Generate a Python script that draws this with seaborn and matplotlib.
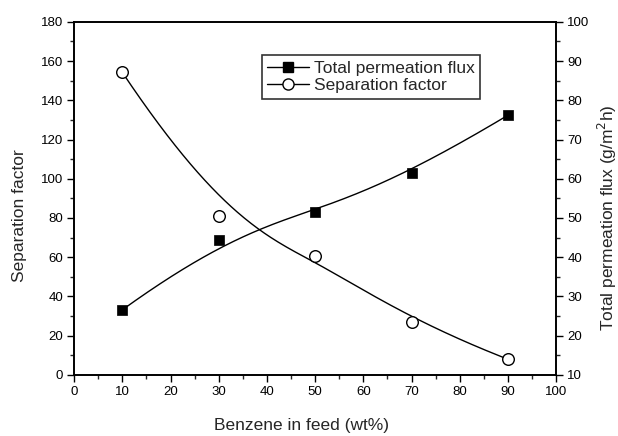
import matplotlib
matplotlib.use("Agg")
import matplotlib.pyplot as plt
import seaborn as sns
import numpy as np
import pandas as pd
from matplotlib.ticker import MultipleLocator
from matplotlib.lines import Line2D

benzene = [10, 30, 50, 70, 90]
separation_factor = [154.2, 80.8, 60.4, 27.2, 8.0]
total_flux = [26.6, 44.3, 51.6, 61.5, 76.2]

df = pd.DataFrame({"benzene": benzene, "sep": separation_factor, "flux": total_flux})


def bspline_curve(xs, ys, n=300):
    """Clamped cubic B-spline using the data points as control points (Origin 'B-spline' connection)."""
    P = np.column_stack([xs, ys]).astype(float)
    k = 3
    m = len(P)
    inner = np.arange(1, m - k)
    knots = np.concatenate([np.zeros(k + 1), inner, np.full(k + 1, m - k)]).astype(float)
    ts = np.linspace(0, m - k, n)
    out = []
    for t in ts:
        N = np.zeros(len(knots) - 1)
        for i in range(len(knots) - 1):
            if knots[i] <= t < knots[i + 1]:
                N[i] = 1.0
        if t >= knots[-1]:
            N[m - 1] = 1.0
        for d in range(1, k + 1):
            Nn = np.zeros(len(knots) - 1 - d)
            for i in range(len(Nn)):
                a = 0.0
                den1 = knots[i + d] - knots[i]
                if den1 > 0:
                    a += (t - knots[i]) / den1 * N[i]
                den2 = knots[i + d + 1] - knots[i + 1]
                if den2 > 0:
                    a += (knots[i + d + 1] - t) / den2 * N[i + 1]
                Nn[i] = a
            N = Nn
        out.append(N[:m] @ P)
    out = np.array(out)
    return out[:, 0], out[:, 1]


sns.set_theme(style="ticks")
plt.rcParams['font.family'] = ['Liberation Sans', 'DejaVu Sans']

fig = plt.figure(figsize=(6.18, 4.36), dpi=100)
ax = fig.add_axes([0.120, 0.140, 0.780, 0.810])
ax2 = ax.twinx()

cx, cy = bspline_curve(df["benzene"], df["sep"])
sns.lineplot(x=cx, y=cy, ax=ax, color="black", lw=1.0, sort=False, estimator=None)
fx, fy = bspline_curve(df["benzene"], df["flux"])
sns.lineplot(x=fx, y=fy, ax=ax2, color="black", lw=1.0, sort=False, estimator=None)

sns.scatterplot(data=df, x="benzene", y="sep", ax=ax, marker="o", s=70,
                facecolor="white", edgecolor="black", linewidth=1.0, zorder=5)
sns.scatterplot(data=df, x="benzene", y="flux", ax=ax2, marker="s", s=60,
                color="black", edgecolor="black", linewidth=0.5, zorder=5)

ax.set_xlim(0, 100)
ax.set_ylim(0, 180)
ax2.set_ylim(10, 100)
ax.xaxis.set_major_locator(MultipleLocator(10))
ax.xaxis.set_minor_locator(MultipleLocator(5))
ax.yaxis.set_major_locator(MultipleLocator(20))
ax.yaxis.set_minor_locator(MultipleLocator(10))
ax2.yaxis.set_major_locator(MultipleLocator(10))
ax2.yaxis.set_minor_locator(MultipleLocator(5))

for a in (ax, ax2):
    a.tick_params(which="major", direction="out", length=5, width=1.0, labelsize=9.5,
                  colors="black", pad=3)
    a.tick_params(which="minor", direction="out", length=3, width=1.0)
    for s in a.spines.values():
        s.set_visible(True)
        s.set_linewidth(1.2)
        s.set_color("black")

ax.set_xlabel("Benzene in feed (wt%)", fontsize=12.5)
ax.set_ylabel("Separation factor", fontsize=12.5)
ax2.set_ylabel("Total permeation flux (g/m$^2$h)", fontsize=12.5)
ax.xaxis.set_label_coords(0.471, -0.122)
ax.yaxis.set_label_coords(-0.098, 0.45)
ax2.yaxis.set_label_coords(1.083, 0.445)

handles = [
    Line2D([], [], color="black", lw=1.0, marker="s", markersize=7,
           markerfacecolor="black", markeredgecolor="black"),
    Line2D([], [], color="black", lw=1.0, marker="o", markersize=8,
           markerfacecolor="white", markeredgecolor="black"),
]
leg = ax.legend(handles, ["Total permeation flux", "Separation factor"],
                loc="upper left", bbox_to_anchor=(0.390, 0.905), fontsize=12.5,
                frameon=True, fancybox=False, edgecolor="black",
                handlelength=2.4, handletextpad=0.3, borderpad=0.3,
                labelspacing=0.15, borderaxespad=0)
leg.get_frame().set_linewidth(1.2)

fig.savefig("out.png", dpi=100)
